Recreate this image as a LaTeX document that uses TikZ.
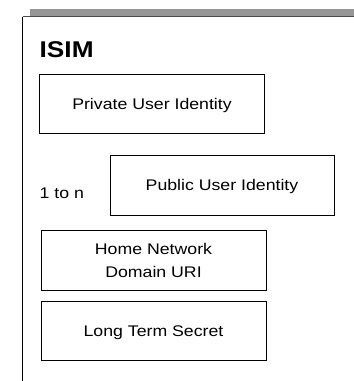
\documentclass[tikz,border=0pt]{standalone}
\usepackage{fontspec}
\setmainfont[FakeStretch=1.15]{Liberation Sans}
\begin{document}
\begin{tikzpicture}[x=1pt,y=-1pt,
  fieldbox/.style={draw=black,line width=0.9pt,minimum width=225pt,minimum height=59pt,inner sep=0pt,font=\fontsize{15.4}{23}\selectfont,align=center},
  field/.style={fieldbox,text height=11pt,text depth=0pt},
  lbl/.style={inner sep=0pt,font=\fontsize{15.4}{18}\selectfont}]
\useasboundingbox (0,0) rectangle (354,381);
\fill[fill={rgb,255:red,150;green,150;blue,150}] (30,9) rectangle (354,16.5);
\draw[line width=1pt,black!70] (22.5,16.5) -- (354,16.5);
\draw[line width=1.2pt] (22.5,16.5) -- (22.5,381);
\node[anchor=base west,inner sep=0pt,font=\bfseries\fontsize{22.8}{26}\selectfont] (title) at (39.5,57) {ISIM};
\node[field] (priv) at (152,103.5) {Private User Identity};
\node[lbl,anchor=base west] (ton) at (39.5,198.5) {1 to n};
\node[field,minimum width=224pt,minimum height=60pt] (pub) at (222,185) {Public User Identity};
\node[fieldbox,minimum height=60pt] (home) at (153.5,260.7) {Home Network\\Domain URI};
\node[field] (lts) at (153.5,331) {Long Term Secret};
\end{tikzpicture}
\end{document}
